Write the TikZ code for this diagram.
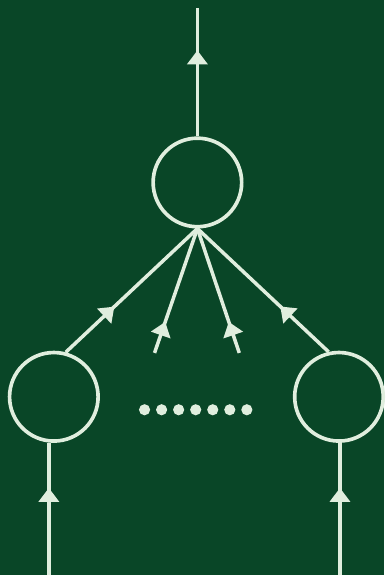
\documentclass[tikz,border=0pt]{standalone}
\definecolor{board}{RGB}{9,70,39}
\definecolor{chalk}{RGB}{224,238,222}
\usepackage{tikz}
\usetikzlibrary{arrows.meta, decorations.markings, positioning, calc}

\begin{document}
\begin{tikzpicture}[x=0.025cm, y=-0.025cm,
					vertex/.style={draw=chalk, circle, line width=2.6pt, minimum size=2.22cm, inner sep=0pt},
					arr/.style={chalk, line width=2.5pt, postaction={decorate}, decoration={markings,
						mark=at position #1 with {\arrow{Triangle[width=0.5cm, length=0.35cm]}}}},
					arr/.default=0.5,
					dot/.style={circle, fill=chalk, minimum size=0.28cm, inner sep=0pt}]
					\fill[board] (0,0) rectangle (385,577);
					\node[vertex] (top) at (198,183) {};
					\node[vertex] (left) at (54,398) {};
					\node[vertex] (right) at (340,398) {};
					\coordinate (out) at (198,8);
					\coordinate (inl) at (49,577);
					\coordinate (inr) at (341,577);
					\coordinate (pl) at (155,354);
					\coordinate (pr) at (240,354);
					\draw[arr=0.67] (top.north) -- (out);
					\draw[arr=0.37] (left.75) -- (top.south);
					\draw[arr=0.37] (right.103) -- (top.south);
					\draw[arr=0.25] (pl) -- (top.south);
					\draw[arr=0.25] (pr) -- (top.south);
					\draw[arr=0.66] (inl) -- (inl |- left.south);
					\draw[arr=0.66] (inr) -- (inr |- right.south);
					\foreach \i in {0,...,6}
						\node[dot] (d\i) at (145+17.1*\i,411) {};
				\end{tikzpicture}
\end{document}
